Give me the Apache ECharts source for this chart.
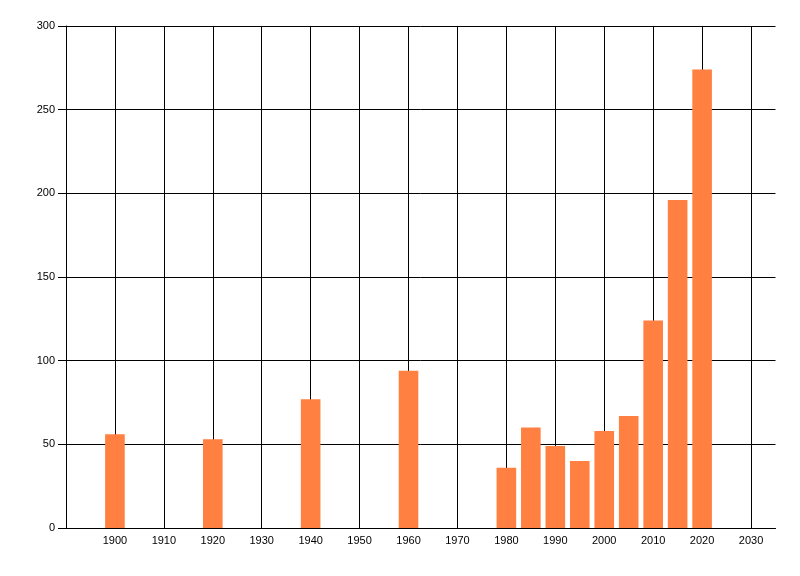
<!DOCTYPE html>
<html>
<head>
<meta charset="utf-8">
<script src="https://cdn.jsdelivr.net/npm/echarts@6/dist/echarts.min.js"></script>
<style>
  html, body { margin: 0; padding: 0; background: #fff; }
  #chart { width: 800px; height: 576px; }
</style>
</head>
<body>
<div id="chart"></div>
<script>
const years = [1900, 1920, 1940, 1960, 1980, 1985, 1990, 1995, 2000, 2005, 2010, 2015, 2020];
const counts = [56, 53, 77, 94, 36, 60, 49, 40, 58, 67, 124, 196, 274];

const chart = echarts.init(document.getElementById("chart"));
const lineStyle = { color: "#000", width: 1 };
const font = { color: "#000", fontFamily: "Liberation Sans, Arial, sans-serif", fontSize: 11 };

chart.setOption({
  backgroundColor: "#fff",
  animation: false,
  grid: { left: 66, right: 24.5, top: 26, bottom: 48, containLabel: false },
  xAxis: {
    type: "value",
    min: 1890,
    max: 2035,
    interval: 10,
    axisLine: { show: true, lineStyle },
    axisTick: { show: false },
    axisLabel: { ...font, margin: 7, showMinLabel: false, showMaxLabel: false, formatter: v => String(v) },
    splitLine: { show: true, lineStyle, showMinLine: false, showMaxLine: false }
  },
  yAxis: {
    type: "value",
    min: 0,
    max: 300,
    interval: 50,
    axisLine: { show: true, lineStyle },
    axisTick: { show: true, length: 8, lineStyle },
    axisLabel: { ...font, margin: 11, formatter: v => String(v) },
    splitLine: { show: true, lineStyle }
  },
  series: [{
    type: "bar",
    barWidth: 19.6,
    itemStyle: { color: "#FF8040" },
    data: years.map((y, i) => [y, counts[i]])
  }]
});
</script>
</body>
</html>
